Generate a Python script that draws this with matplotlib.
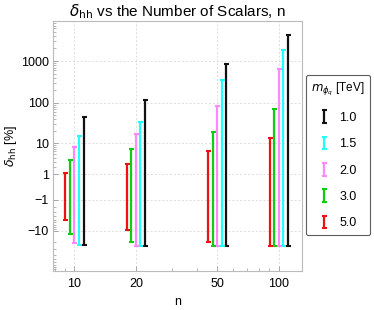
import numpy as np
import matplotlib
matplotlib.use('Agg')
import matplotlib.pyplot as plt
from matplotlib.ticker import FixedLocator, NullFormatter

plt.rcParams['font.family'] = ['Liberation Sans', 'DejaVu Sans']
plt.rcParams['mathtext.fontset'] = 'dejavusans'

# data
n_vals = [10, 20, 50, 100]
masses = ['1.0', '1.5', '2.0', '3.0', '5.0']
colors = ['#111111', '#22ffff', '#ff88ff', '#11cc11', '#ee1111']

low = {
    '1.0': [-23.0, -24.0, -24.0, -24.0],
    '1.5': [-23.5, -24.0, -24.0, -25.0],
    '2.0': [-20.2, -24.0, -24.0, -24.0],
    '3.0': [-12.2, -19.8, -24.0, -24.0],
    '5.0': [-5.1, -9.4, -19.1, -24.0],
}
high = {
    '1.0': [45.7, 117.0, 868.0, 4086.0],
    '1.5': [15.5, 34.5, 347.0, 1868.0],
    '2.0': [8.0, 17.4, 82.8, 645.0],
    '3.0': [3.4, 6.96, 19.2, 70.1],
    '5.0': [1.18, 2.44, 6.14, 13.3],
}

yticks = [-10, -1, 1, 10, 100, 1000]
ytick_labels = ['\u221210', '\u22121', '1', '10', '100', '1000']


def fwd(y):
    y = np.asarray(y, dtype=float)
    return np.sign(y) * np.log10(1 + np.abs(y))


def inv(f):
    f = np.asarray(f, dtype=float)
    return np.sign(f) * (10 ** np.abs(f) - 1)


fig = plt.figure(figsize=(3.74, 3.10), dpi=100)
ax = fig.add_axes([0.1417, 0.1258, 0.6658, 0.8065])
ax.set_xscale('log')
ax.set_yscale('function', functions=(fwd, inv))

step = 0.0222  # spacing between masses, in decades
order = [2, 1, 0, -1, -2]
for m, c, k in zip(masses, colors, order):
    lo = np.array(low[m])
    hi = np.array(high[m])
    x = np.array(n_vals) * 10 ** (k * step)
    mid = (lo + hi) / 2
    ax.errorbar(x, mid, yerr=[mid - lo, hi - mid], fmt='none', ecolor=c,
                elinewidth=1.6, capsize=1.8, capthick=1.5, label=m)

ax.set_xlim(7.85, 130)
ax.set_ylim(-100, 9000)

ax.xaxis.set_major_locator(FixedLocator(n_vals))
ax.set_xticklabels([str(v) for v in n_vals])
ax.xaxis.set_minor_locator(FixedLocator([8, 9, 30, 40, 60, 70, 80, 90]))
ax.xaxis.set_minor_formatter(NullFormatter())

ax.yaxis.set_major_locator(FixedLocator(yticks))
ax.set_yticklabels(ytick_labels)
minors = []
for d in [1, 10, 100, 1000]:
    for j in range(2, 10):
        minors.append(j * d)
        if d <= 10:
            minors.append(-j * d)
ax.yaxis.set_minor_locator(FixedLocator(minors))
ax.yaxis.set_minor_formatter(NullFormatter())

ax.tick_params(which='both', direction='in', top=False, right=False,
               labelsize=9, color='#999999')
ax.tick_params(axis='x', pad=5)
ax.tick_params(axis='y', pad=3)
ax.tick_params(which='major', length=3.5, width=0.6)
ax.tick_params(which='minor', length=2, width=0.5)
ax.grid(True, which='major', color='#dddddd', linestyle=(0, (2, 2)), linewidth=0.7)
for s in ax.spines.values():
    s.set_color('#bbbbbb')
    s.set_linewidth(0.8)

ax.set_title(r'$\delta_{\rm hh}$ vs the Number of Scalars, n', fontsize=11, pad=3)
ax.set_xlabel('n', fontsize=9, labelpad=4)
ax.set_ylabel(r'$\delta_{\rm hh}$ [%]', fontsize=9, labelpad=1)

leg = fig.legend(loc='center left', bbox_to_anchor=(0.817, 0.5),
                 bbox_transform=fig.transFigure, title=r'$m_{\phi_q}$ [TeV]',
                 fontsize=9, title_fontsize=8.5, frameon=True, fancybox=True,
                 handlelength=0.7, handletextpad=0.9, labelspacing=1.15,
                 borderpad=0.45, borderaxespad=0)
leg.get_frame().set_edgecolor('#333333')
leg.get_frame().set_linewidth(0.8)

fig.savefig('out.png', dpi=100)
